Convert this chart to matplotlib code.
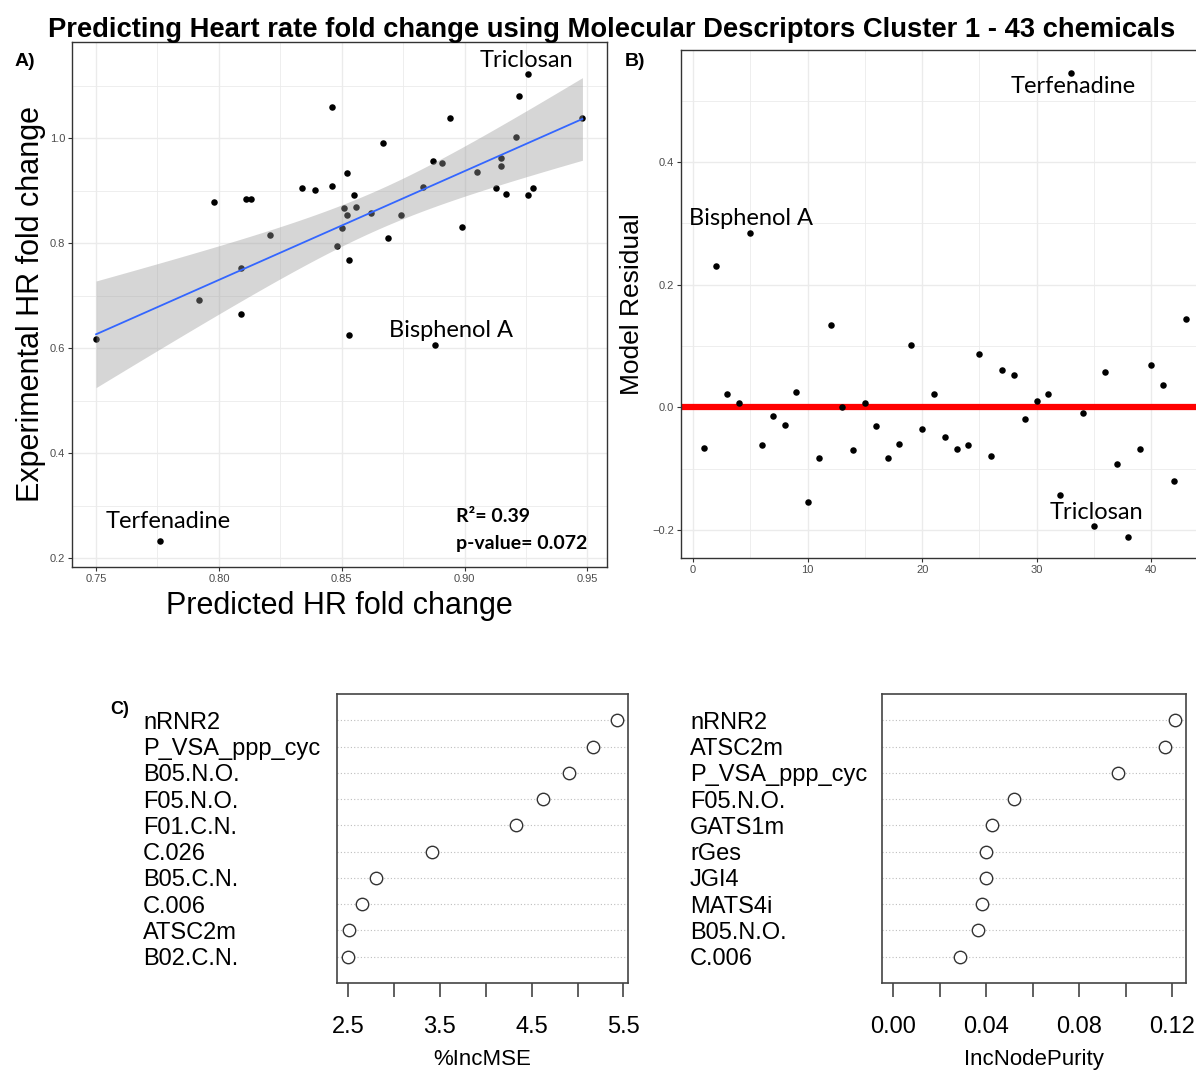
import matplotlib
matplotlib.use('Agg')
import matplotlib.pyplot as plt
import numpy as np

# Painel A: predito vs experimental (43 químicos)
predito = [0.750, 0.776, 0.792, 0.798, 0.809, 0.809, 0.811, 0.813, 0.821, 0.834,
           0.839, 0.846, 0.846, 0.848, 0.850, 0.851, 0.852, 0.852, 0.853, 0.853,
           0.855, 0.856, 0.862, 0.867, 0.869, 0.874, 0.883, 0.887, 0.888, 0.891,
           0.894, 0.899, 0.905, 0.913, 0.915, 0.915, 0.917, 0.921, 0.922, 0.926,
           0.926, 0.928, 0.948]
experimental = [0.618, 0.233, 0.691, 0.879, 0.665, 0.752, 0.884, 0.884, 0.816, 0.905,
                0.901, 1.059, 0.908, 0.795, 0.828, 0.866, 0.853, 0.934, 0.624, 0.767,
                0.892, 0.868, 0.858, 0.990, 0.810, 0.853, 0.906, 0.957, 0.605, 0.953,
                1.039, 0.831, 0.936, 0.905, 0.946, 0.963, 0.894, 1.002, 1.081, 1.122,
                0.892, 0.905, 1.039]

# Painel B: resíduos do modelo por índice
indice = list(range(1, 44))
residuo = [-0.066, 0.230, 0.021, 0.007, 0.284, -0.061, -0.014, -0.029, 0.025, -0.155,
           -0.082, 0.135, 0.001, -0.070, 0.007, -0.031, -0.082, -0.060, 0.102, -0.035,
           0.022, -0.048, -0.068, -0.061, 0.087, -0.079, 0.060, 0.053, -0.019, 0.010,
           0.022, -0.144, 0.545, -0.010, -0.194, 0.058, -0.092, -0.211, -0.068, 0.069,
           0.036, -0.120, 0.144]

# Painel C: importância das variáveis
desc_mse = ['nRNR2', 'P_VSA_ppp_cyc', 'B05.N.O.', 'F05.N.O.', 'F01.C.N.', 'C.026',
            'B05.C.N.', 'C.006', 'ATSC2m', 'B02.C.N.']
inc_mse = [5.43, 5.17, 4.91, 4.62, 4.33, 3.41, 2.81, 2.65, 2.51, 2.50]
desc_pur = ['nRNR2', 'ATSC2m', 'P_VSA_ppp_cyc', 'F05.N.O.', 'GATS1m', 'rGes', 'JGI4',
            'MATS4i', 'B05.N.O.', 'C.006']
inc_pur = [0.1210, 0.1168, 0.0965, 0.0520, 0.0424, 0.0401, 0.0400, 0.0380, 0.0364, 0.0289]

fonte_rot = 'Lato'
cinza_grade = '#EBEBEB'

fig = plt.figure(figsize=(11.96, 10.70), dpi=100)
plt.rcParams['font.family'] = ['Liberation Sans', 'DejaVu Sans']

fig.text(0.511, 1 - 30 / 1070, 'Predicting Heart rate fold change using Molecular Descriptors Cluster 1 - 43 chemicals',
         ha='center', va='center', fontsize=19.7, fontweight='bold')


def estilo_ggplot(ax):
    ax.set_axisbelow(True)
    ax.grid(which='major', color=cinza_grade, linewidth=1.0)
    ax.grid(which='minor', color=cinza_grade, linewidth=0.6)
    for s in ax.spines.values():
        s.set_color('#333333')
        s.set_linewidth(1.0)
    ax.tick_params(which='major', length=3, color='#333333', labelcolor='#4D4D4D', labelsize=8, pad=2)
    ax.tick_params(which='minor', length=0)


# ---------- Painel A ----------
axA = fig.add_axes([72 / 1196, 1 - 567 / 1070, 535 / 1196, 525 / 1070])
x = np.array(predito)
y = np.array(experimental)
axA.scatter(x, y, s=22, color='black', zorder=2, linewidths=0)

# Regressão linear com intervalo de confiança de 95%
b, a = np.polyfit(x, y, 1)
n = len(x)
res = y - (a + b * x)
s_res = np.sqrt(np.sum(res ** 2) / (n - 2))
xs = np.linspace(x.min(), x.max(), 80)
se = s_res * np.sqrt(1 / n + (xs - x.mean()) ** 2 / np.sum((x - x.mean()) ** 2))
ys = a + b * xs
axA.fill_between(xs, ys - 2.02 * se, ys + 2.02 * se, color='#999999', alpha=0.4, linewidth=0, zorder=3)
axA.plot(xs, ys, color='#3366FF', linewidth=1.3, zorder=4)

axA.set_xlim(0.7402, 0.958)
axA.set_ylim(0.183, 1.183)
axA.set_xticks([0.75, 0.80, 0.85, 0.90, 0.95])
axA.set_xticks([0.775, 0.825, 0.875, 0.925], minor=True)
axA.set_yticks([0.2, 0.4, 0.6, 0.8, 1.0])
axA.set_yticks([0.3, 0.5, 0.7, 0.9, 1.1], minor=True)
estilo_ggplot(axA)
axA.set_xlabel('Predicted HR fold change', fontsize=22, labelpad=5)
axA.set_ylabel('Experimental HR fold change', fontsize=22, labelpad=3)

axA.text(0.9252, 1.1486, 'Triclosan', family=fonte_rot, fontsize=17, ha='center', va='center', zorder=5)
axA.text(0.8946, 0.634, 'Bisphenol A', family=fonte_rot, fontsize=17, ha='center', va='center', zorder=5)
axA.text(0.7793, 0.2705, 'Terfenadine', family=fonte_rot, fontsize=17, ha='center', va='center', zorder=5)
axA.text(0.8967, 0.280, 'R²= 0.39', family=fonte_rot, fontsize=14, fontweight='bold', ha='left', va='center')
axA.text(0.8967, 0.2286, 'p-value= 0.072', family=fonte_rot, fontsize=14, fontweight='bold', ha='left', va='center')
fig.text(15 / 1196, 1 - 62 / 1070, 'A)', fontsize=14, fontweight='bold', ha='left', va='center')

# ---------- Painel B ----------
axB = fig.add_axes([681 / 1196, 1 - 558 / 1070, 515 / 1196, 508 / 1070])
axB.scatter(indice, residuo, s=22, color='black', zorder=3, linewidths=0)
axB.axhline(0, color='#FF0000', linewidth=4.5, zorder=2)
axB.set_xlim(-1.05, 43.9)
axB.set_ylim(-0.246, 0.583)
axB.set_xticks([0, 10, 20, 30, 40])
axB.set_xticks([5, 15, 25, 35], minor=True)
axB.set_yticks([-0.2, 0.0, 0.2, 0.4])
axB.set_yticks([-0.1, 0.1, 0.3, 0.5], minor=True)
estilo_ggplot(axB)
axB.spines['right'].set_visible(False)
axB.set_ylabel('Model Residual', fontsize=19, labelpad=6)

axB.text(33.16, 0.524, 'Terfenadine', family=fonte_rot, fontsize=17, ha='center', va='center', zorder=5)
axB.text(-0.35, 0.3086, 'Bisphenol A', family=fonte_rot, fontsize=17, ha='left', va='center', zorder=5)
axB.text(35.17, -0.171, 'Triclosan', family=fonte_rot, fontsize=17, ha='center', va='center', zorder=5)
fig.text(625 / 1196, 1 - 62 / 1070, 'B)', fontsize=14, fontweight='bold', ha='left', va='center')


# ---------- Painel C (dotcharts estilo R base) ----------
def dotchart(ax, nomes, valores, xlim, ticks, rotulos, xlabel, pad_rot):
    linhas = np.arange(len(nomes), 0, -1)
    for yy in linhas:
        ax.axhline(yy, color='#BEBEBE', linewidth=0.8, linestyle=(0, (1, 2)), zorder=1)
    ax.scatter(valores, linhas, s=80, facecolors='white', edgecolors='#333333', linewidths=1.0, zorder=3)
    ax.set_xlim(*xlim)
    ax.set_ylim(0, 11)
    ax.set_yticks(linhas)
    ax.set_yticklabels(nomes, ha='left', fontsize=17)
    ax.tick_params(axis='y', length=0, pad=pad_rot)
    ax.set_xticks(ticks)
    ax.set_xticklabels(rotulos, fontsize=17)
    ax.tick_params(axis='x', length=10, width=1.2, color='#444444', pad=14)
    ax.set_xlabel(xlabel, fontsize=16, labelpad=8)
    for s in ax.spines.values():
        s.set_color('#444444')
        s.set_linewidth(1.2)


axC1 = fig.add_axes([337 / 1196, 1 - 983 / 1070, 291 / 1196, 289 / 1070])
dotchart(axC1, desc_mse, inc_mse, (2.38, 5.55),
         [2.5, 3.0, 3.5, 4.0, 4.5, 5.0, 5.5], ['2.5', '', '3.5', '', '4.5', '', '5.5'],
         '%IncMSE', (337 - 143) * 0.72)

axC2 = fig.add_axes([882 / 1196, 1 - 983 / 1070, 304 / 1196, 289 / 1070])
dotchart(axC2, desc_pur, inc_pur, (-0.0048, 0.1259),
         [0.0, 0.02, 0.04, 0.06, 0.08, 0.10, 0.12], ['0.00', '', '0.04', '', '0.08', '', '0.12'],
         'IncNodePurity', (882 - 690) * 0.72)

fig.text(110 / 1196, 1 - 710 / 1070, 'C)', fontsize=13, fontweight='bold', ha='left', va='center')

fig.savefig('out.png', dpi=100)
